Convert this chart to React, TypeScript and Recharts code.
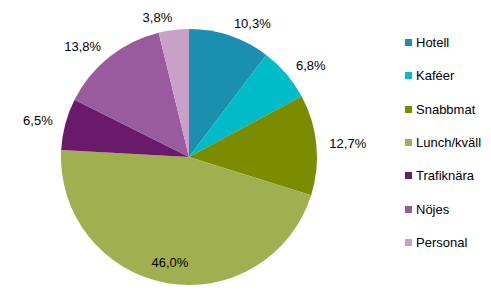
import React from 'react';
import { PieChart, Pie, Cell, Legend } from 'recharts';

const categories = ['Hotell', 'Kaféer', 'Snabbmat', 'Lunch/kväll', 'Trafiknära', 'Nöjes', 'Personal'];
const shares = [10.3, 6.8, 12.7, 46.0, 6.5, 13.8, 3.8];
const colors = ['#1a8fae', '#00bcc8', '#7a8c00', '#a0b050', '#6a1a6a', '#9a5a9e', '#c8a0c8'];

const data = categories.map((name, i) => ({ name, value: shares[i] }));

const RAD = Math.PI / 180;
const font = 'Arial, "Liberation Sans", sans-serif';

const renderLabel = (props: any) => {
  const { cx, cy, midAngle, outerRadius, value, index } = props;
  const inside = value > 40;
  const r = inside ? outerRadius - 21 : outerRadius + 13;
  const cos = Math.cos(-midAngle * RAD);
  const sin = Math.sin(-midAngle * RAD);
  const x = cx + r * cos;
  const y = cy + r * sin;
  const anchor = inside ? 'middle' : cos >= 0 ? 'start' : 'end';
  return (
    <text key={index} x={x} y={y} textAnchor={anchor} dominantBaseline="central" fontSize={13} fontFamily={font} fill="#000">
      {value.toFixed(1).replace('.', ',')}%
    </text>
  );
};

const renderLegend = () => (
  <div style={{ fontFamily: font, fontSize: 13, color: '#000' }}>
    {categories.map((c, i) => (
      <div key={c} style={{ display: 'flex', alignItems: 'center', height: 33.3 }}>
        <span style={{ width: 7, height: 7, background: colors[i], display: 'inline-block', marginRight: 4 }} />
        <span>{c}</span>
      </div>
    ))}
  </div>
);

export default function App() {
  return (
    <div style={{ position: 'absolute', left: 0, top: 0, width: 491, height: 302, background: '#fff' }}>
      <PieChart width={491} height={302} margin={{ top: 0, right: 0, bottom: 0, left: 0 }}>
        <Pie
          data={data}
          dataKey="value"
          nameKey="name"
          cx={189}
          cy={157}
          outerRadius={128}
          startAngle={90}
          endAngle={-270}
          stroke="none"
          label={renderLabel}
          labelLine={false}
          isAnimationActive={false}
        >
          {data.map((d, i) => (
            <Cell key={d.name} fill={colors[i]} />
          ))}
        </Pie>
        <Legend content={renderLegend} wrapperStyle={{ position: 'absolute', left: 405, top: 26, width: 90 }} />
      </PieChart>
    </div>
  );
}
